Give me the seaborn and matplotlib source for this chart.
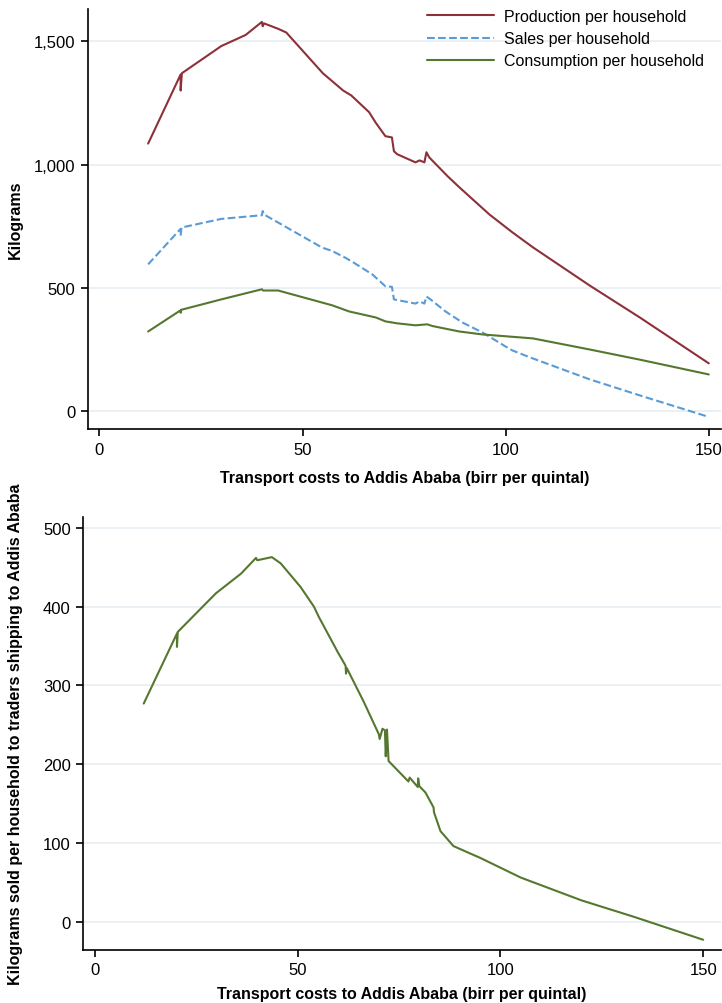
import matplotlib
matplotlib.use("Agg")
import matplotlib.pyplot as plt
from matplotlib import font_manager
from matplotlib.ticker import FuncFormatter
import pandas as pd
import seaborn as sns

# transport cost (birr per quintal) vs kilograms per household
prod_x = [12, 20, 20, 20.3, 30, 36, 40, 40.2, 40.5, 44, 46, 55, 60, 62, 66.4, 68, 70.4, 72, 72.5,
          73.3, 77.8, 78.8, 80, 80.5, 81.2, 85.7, 88.6, 96, 101.7, 106.7, 120.7, 133, 150]
prod_y = [1085, 1365, 1300, 1370, 1480, 1525, 1578, 1560, 1572, 1550, 1535, 1370, 1300, 1280, 1212,
          1170, 1115, 1110, 1054, 1042, 1009, 1017, 1009, 1050, 1029, 953, 908, 798, 725, 665, 510, 381, 195]

sales_x = [12, 20, 20, 20.2, 30, 40, 40.2, 40.5, 54.8, 57.3, 60.5, 62.2, 67.2, 70.4, 72, 72.5, 77.8,
           78.8, 80, 80.5, 81.5, 85.2, 89.4, 94.3, 100, 101.7, 106, 120.7, 133.8, 150]
sales_y = [596, 740, 712, 745, 780, 795, 812, 798, 664, 650, 623, 607, 555, 507, 505, 454, 437,
           446, 437, 466, 454, 405, 360, 320, 263, 247, 219, 130, 61, -22]

cons_x = [12, 20, 20, 20.2, 30, 40, 40.3, 44, 57.3, 61.5, 68, 70.4, 73.3, 77.8, 80.7, 82, 88.6,
          94.3, 106.7, 120.7, 133, 150]
cons_y = [324, 410, 400, 412, 454, 495, 490, 490, 430, 405, 381, 365, 357, 349, 353, 346, 324,
          312, 296, 251, 210, 150]

trad_x = [12, 20.2, 20.2, 20.4, 29.8, 36, 39.7, 40, 43.6, 45.8, 50.7, 54, 55.2, 59.9, 61.8, 61.9,
          62.1, 66.3, 70, 70.2, 70.9, 71.5, 71.7, 72, 72.4, 77.3, 77.6, 79.6, 79.7, 80, 81.5, 83.5,
          83.6, 85.2, 88.4, 91.9, 95, 105, 120, 133, 150]
trad_y = [277, 366, 349, 368, 417, 442, 462, 459, 463, 455, 425, 400, 387, 342, 325, 315,
          322, 279, 238, 232, 245, 243, 210, 244, 204, 178, 183, 171, 182, 172, 164, 145,
          139, 115, 96, 88, 81, 56, 27, 6, -23]

series_names = ["Production per household", "Sales per household", "Consumption per household"]
colors = ["#8E3039", "#5B9BD5", "#56772F"]

sns.set_theme(style="white")
names = {f.name for f in font_manager.fontManager.ttflist}
fam = "Liberation Sans Narrow" if "Liberation Sans Narrow" in names else "Liberation Sans"
plt.rcParams["font.family"] = [fam, "DejaVu Sans"]
plt.rcParams["text.color"] = "black"
plt.rcParams["axes.labelcolor"] = "black"
plt.rcParams["xtick.color"] = "black"
plt.rcParams["ytick.color"] = "black"

grid_c = "#E6EEF1"
xlab = "Transport costs to Addis Ababa (birr per quintal)"

fig = plt.figure(figsize=(7.22, 10.04), dpi=100)
ax1 = fig.add_axes([0.1219, 0.5717, 0.8767, 0.4183])
ax2 = fig.add_axes([0.1154, 0.0528, 0.8832, 0.4313])

df = pd.concat([
    pd.DataFrame({"x": prod_x, "y": prod_y, "s": series_names[0]}),
    pd.DataFrame({"x": sales_x, "y": sales_y, "s": series_names[1]}),
    pd.DataFrame({"x": cons_x, "y": cons_y, "s": series_names[2]}),
])
for name, c, ls in zip(series_names, colors, ["-", "--", "-"]):
    d = df[df["s"] == name]
    sns.lineplot(data=d, x="x", y="y", ax=ax1, sort=False, estimator=None, color=c,
                 linestyle=ls, lw=1.5, label=name)

sns.lineplot(x=trad_x, y=trad_y, ax=ax2, sort=False, estimator=None, color=colors[2], lw=1.5)

ax1.set_xlim(-2.8, 153.0)
ax1.set_ylim(-71, 1630)
ax1.set_yticks([0, 500, 1000, 1500])
ax1.yaxis.set_major_formatter(FuncFormatter(lambda v, p: f"{int(v):,}"))
ax1.set_ylabel("Kilograms", fontsize=11.5, fontweight="bold", labelpad=8)
ax1.set_xlabel(xlab, fontsize=11.5, fontweight="bold", labelpad=10)

ax2.set_xlim(-2.9, 154.4)
ax2.set_ylim(-36, 514)
ax2.set_yticks([0, 100, 200, 300, 400, 500])
ax2.set_ylabel("Kilograms sold per household to traders shipping to Addis Ababa",
               fontsize=11.5, fontweight="bold", labelpad=14)
ax2.set_xlabel(xlab, fontsize=11.5, fontweight="bold", labelpad=6)

for ax in (ax1, ax2):
    ax.set_xticks([0, 50, 100, 150])
    ax.grid(axis="y", color=grid_c, lw=1.2)
    ax.set_axisbelow(True)
    for sp in ("top", "right"):
        ax.spines[sp].set_visible(False)
    for sp in ("left", "bottom"):
        ax.spines[sp].set_color("black")
        ax.spines[sp].set_linewidth(1.2)
    ax.tick_params(axis="both", direction="out", length=5, width=1.2, color="black",
                   labelsize=12, bottom=True, left=True, pad=4)

leg = ax1.legend(loc="upper left", frameon=False, fontsize=11.5, handlelength=4.2,
                 handletextpad=0.6, labelspacing=0.45, borderaxespad=0.0, borderpad=0.0,
                 bbox_to_anchor=((427 - 88) / 633, 1.0))

fig.savefig("out.png", dpi=100)
